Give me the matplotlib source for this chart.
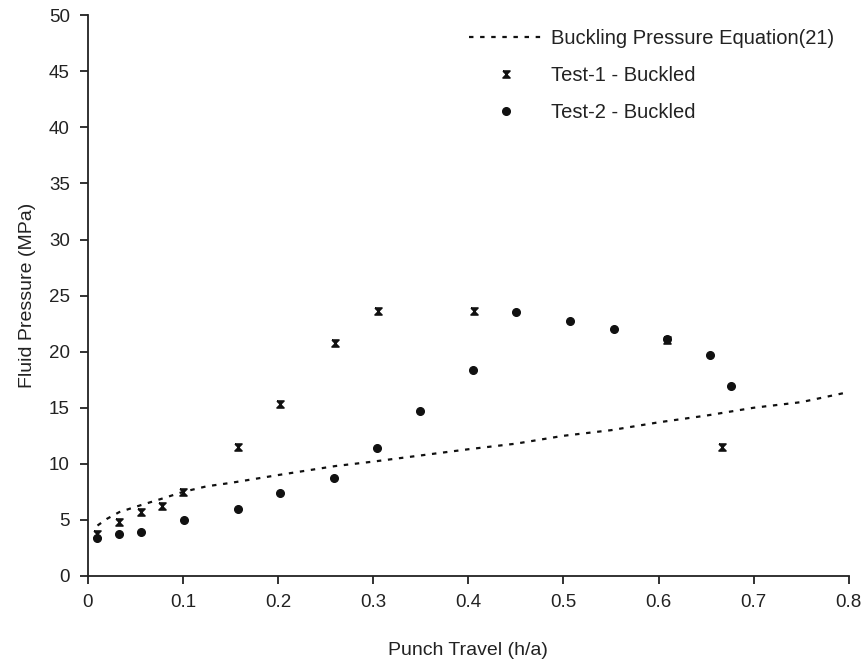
import matplotlib
matplotlib.use("Agg")
import matplotlib.pyplot as plt

plt.rcParams['font.family'] = ['Liberation Sans', 'DejaVu Sans']

# Buckling pressure equation (21)
eq_x = [0.01, 0.02, 0.033, 0.055, 0.078, 0.10, 0.125, 0.15, 0.20, 0.26, 0.30,
        0.40, 0.45, 0.50, 0.55, 0.60, 0.65, 0.70, 0.75, 0.80]
eq_y = [4.5, 5.1, 5.7, 6.3, 6.9, 7.5, 8.0, 8.3, 9.0, 9.8, 10.2,
        11.3, 11.8, 12.5, 13.0, 13.7, 14.3, 15.0, 15.5, 16.4]

# Test-1 - Buckled
t1_x = [0.01, 0.033, 0.056, 0.078, 0.10, 0.158, 0.202, 0.26, 0.305, 0.406, 0.609, 0.667]
t1_y = [3.7, 4.8, 5.7, 6.2, 7.5, 11.5, 15.3, 20.8, 23.6, 23.6, 21.0, 11.5]

# Test-2 - Buckled
t2_x = [0.01, 0.033, 0.056, 0.101, 0.158, 0.202, 0.259, 0.304, 0.349, 0.405,
        0.450, 0.507, 0.553, 0.609, 0.654, 0.676]
t2_y = [3.4, 3.7, 3.9, 5.0, 6.0, 7.4, 8.7, 11.4, 14.7, 18.4,
        23.5, 22.7, 22.0, 21.1, 19.7, 16.9]

txt = "#222222"
hourglass = [(-1, 1), (1, 1), (-1, -1), (1, -1), (-1, 1)]

fig = plt.figure(figsize=(8.66, 6.61), dpi=100)
ax = fig.add_axes([0.1016, 0.1286, 0.8784, 0.8484])

ax.plot(eq_x, eq_y, color="#111111", lw=1.6, linestyle=(0, (2, 3)),
        label="Buckling Pressure Equation(21)")
ax.plot(t1_x, t1_y, linestyle="none", marker=hourglass, markersize=5,
        color="#111111", mew=1.2, label="Test-1 - Buckled")
ax.plot(t2_x, t2_y, linestyle="none", marker="o", markersize=5.5,
        color="#111111", label="Test-2 - Buckled")

ax.set_xlim(0, 0.8)
ax.set_ylim(0, 50)
ax.set_xticks([0, 0.1, 0.2, 0.3, 0.4, 0.5, 0.6, 0.7, 0.8])
ax.set_xticklabels(["0", "0.1", "0.2", "0.3", "0.4", "0.5", "0.6", "0.7", "0.8"])
ax.set_yticks(range(0, 51, 5))

for s in ["top", "right"]:
    ax.spines[s].set_visible(False)
for s in ["left", "bottom"]:
    ax.spines[s].set_linewidth(1.3)
    ax.spines[s].set_color("#222222")

ax.tick_params(direction="out", length=6, width=1.3, colors="#222222",
               labelsize=13.5, labelcolor=txt, pad=7)
ax.set_xlabel("Punch Travel (h/a)", fontsize=14, color=txt, labelpad=22)
ax.set_ylabel("Fluid Pressure (MPa)", fontsize=14, color=txt, labelpad=9)

ax.legend(loc="upper right", bbox_to_anchor=(1.005, 1.008), frameon=False,
          fontsize=14.5, labelcolor=txt, handlelength=3.7, handletextpad=0.4,
          labelspacing=0.9)

fig.savefig("out.png", dpi=100)
